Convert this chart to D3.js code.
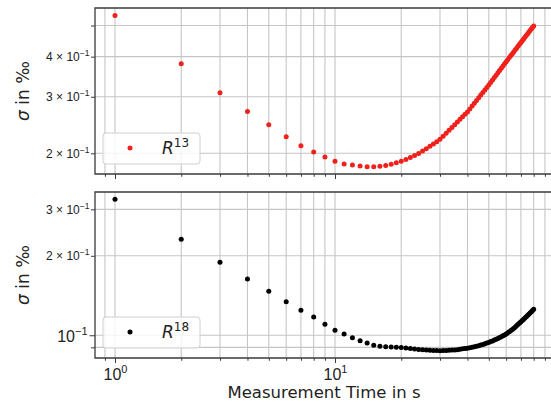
<!DOCTYPE html>
<html>
<head>
<meta charset="utf-8">
<script src="https://cdnjs.cloudflare.com/ajax/libs/d3/7.8.5/d3.min.js"></script>
<style>
    body { margin: 0; background: #fff; }
    svg { font-family: "DejaVu Sans", sans-serif; }
</style>
</head>
<body>
<div id="chart"></div>
<script>
// measurement times (s)
var measureTime = [1, 2, 3, 4, 5, 6, 7, 8, 9, 10, 11, 12, 13, 14, 15, 16, 17, 18, 19, 20,
    21, 22, 23, 24, 25, 26, 27, 28, 29, 30, 31, 32, 33, 34, 35, 36, 37, 38, 39, 40,
    41, 42, 43, 44, 45, 46, 47, 48, 49, 50, 51, 52, 53, 54, 55, 56, 57, 58, 59, 60,
    61, 62, 63, 64, 65, 66, 67, 68, 69, 70, 71, 72, 73, 74, 75, 76, 77, 78, 79, 80];

// sigma of R13 in permil
var sigmaR13 = [0.537, 0.380, 0.309, 0.270, 0.2456, 0.2252, 0.2112, 0.2019, 0.1947, 0.1888,
    0.1852, 0.1838, 0.1826, 0.1816, 0.1816, 0.1822, 0.1834, 0.1848, 0.1868, 0.1888,
    0.1913, 0.1941, 0.1969, 0.1997, 0.2034, 0.2068, 0.2105, 0.2137, 0.2172, 0.2210,
    0.2260, 0.2309, 0.2359, 0.2407, 0.2456, 0.2504, 0.2551, 0.2598, 0.2645, 0.2690,
    0.2748, 0.2806, 0.2863, 0.2921, 0.2978, 0.3037, 0.3094, 0.3150, 0.3207, 0.3265,
    0.3324, 0.3384, 0.3443, 0.3502, 0.3563, 0.3623, 0.3681, 0.3739, 0.3799, 0.3859,
    0.3915, 0.3974, 0.4032, 0.4087, 0.4146, 0.4200, 0.4258, 0.4316, 0.4372, 0.4429,
    0.4487, 0.4542, 0.4598, 0.4654, 0.4708, 0.4766, 0.4821, 0.4876, 0.4929, 0.4986];

// sigma of R18 in permil
var sigmaR18 = [0.3273, 0.2309, 0.1890, 0.1634, 0.1468, 0.1340, 0.1244, 0.1173, 0.1101, 0.1045,
    0.1011, 0.0978, 0.0954, 0.0934, 0.0917, 0.0909, 0.0905, 0.0902, 0.0901, 0.0898,
    0.0895, 0.0891, 0.0887, 0.0884, 0.0881, 0.0879, 0.0877, 0.0876, 0.0875, 0.0874,
    0.0875, 0.0876, 0.0878, 0.0879, 0.0880, 0.0882, 0.0885, 0.0888, 0.0890, 0.0893,
    0.0897, 0.0901, 0.0905, 0.0909, 0.0913, 0.0918, 0.0923, 0.0929, 0.0934, 0.0939,
    0.0946, 0.0952, 0.0959, 0.0966, 0.0972, 0.0980, 0.0988, 0.0996, 0.1003, 0.1011,
    0.1021, 0.1032, 0.1042, 0.1052, 0.1063, 0.1075, 0.1088, 0.1100, 0.1113, 0.1126,
    0.1138, 0.1150, 0.1163, 0.1176, 0.1188, 0.1201, 0.1214, 0.1228, 0.1241, 0.1255];

// ticks
var xMajorTicks = [1, 10];
var xMajorLabels = ["0", "1"];   // exponents of 10
var xMinorTicks = [0.9, 2, 3, 4, 5, 6, 7, 8, 9, 20, 30, 40, 50, 60, 70, 80, 90];

var topYTicks = [0.2, 0.3, 0.4, 0.5];
var topYLabels = ["2 × 10", "3 × 10", "4 × 10", ""];
var botYTicks = [0.09, 0.1, 0.2, 0.3];
var botYLabels = ["", "10", "2 × 10", "3 × 10"];
var botYMajor = [0.1];

let width = 551;
let height = 403;

var svg = d3.select("#chart").append("svg")
    .attr("width", width)
    .attr("height", height);

// x axis shared by both panels (log)
var xScale = d3.scaleLog()
    .domain([0.811, 100])
    .range([95, 555]);

var yTop = d3.scaleLog()
    .domain([0.1724, 0.567])
    .range([174, 8]);

var yBot = d3.scaleLog()
    .domain([0.082, 0.349])
    .range([358, 192]);

var gridColor = "#c6c6c6";
var spineColor = "#3a3a3a";
var textColor = "#222";

function drawPanel(yScale, yTicks, yLabels, yMajor, values, color, sup, xLabels) {
    var top = yScale.range()[1];
    var bottom = yScale.range()[0];
    var left = xScale.range()[0];
    var right = xScale.range()[1];
    var g = svg.append("g");

    // grid
    g.selectAll(".vgrid")
        .data(xMajorTicks.concat(xMinorTicks))
        .enter()
        .append("line")
        .attr("x1", d => xScale(d))
        .attr("x2", d => xScale(d))
        .attr("y1", top)
        .attr("y2", bottom)
        .attr("stroke", gridColor)
        .attr("stroke-width", 1.1);

    g.selectAll(".hgrid")
        .data(yTicks)
        .enter()
        .append("line")
        .attr("x1", left)
        .attr("x2", right)
        .attr("y1", d => yScale(d))
        .attr("y2", d => yScale(d))
        .attr("stroke", gridColor)
        .attr("stroke-width", 1.1);

    // points
    g.selectAll("circle.pt")
        .data(values)
        .enter()
        .append("circle")
        .attr("class", "pt")
        .attr("cx", (d, i) => xScale(measureTime[i]))
        .attr("cy", d => yScale(d))
        .attr("r", 2.5)
        .attr("fill", color);

    // x ticks (major + minor)
    var xMajAxis = g.append("g")
        .attr("transform", "translate(0," + bottom + ")")
        .call(d3.axisBottom(xScale).tickValues(xMajorTicks).tickSize(5).tickFormat(() => ""));
    g.append("g")
        .attr("transform", "translate(0," + bottom + ")")
        .call(d3.axisBottom(xScale).tickValues(xMinorTicks).tickSize(2.8).tickFormat(() => ""));

    if (xLabels) {
        xMajAxis.selectAll(".tick text").each(function (d, i) {
            var t = d3.select(this)
                .attr("y", 22)
                .attr("dy", 0)
                .attr("font-size", "16px")
                .attr("fill", textColor);
            t.append("tspan").text("10");
            t.append("tspan").attr("dy", -7).attr("font-size", "11px").text(xMajorLabels[i]);
        });
    }

    // y ticks
    var yAxis = g.append("g")
        .attr("transform", "translate(" + left + ",0)")
        .call(d3.axisLeft(yScale).tickValues(yTicks).tickSize(4).tickPadding(1.5).tickFormat(() => ""));

    yAxis.selectAll(".tick").each(function (d, i) {
        var big = yMajor.indexOf(d) >= 0;
        var tick = d3.select(this);
        if (big) tick.select("line").attr("x2", -5.5);
        if (!yLabels[i]) return;
        var t = tick.select("text")
            .attr("x", big ? -7.5 : -5.5)
            .attr("dy", big ? "0.36em" : "0.34em")
            .attr("font-size", big ? "16px" : "12px")
            .attr("fill", textColor);
        t.append("tspan").text(yLabels[i]);
        t.append("tspan").attr("dy", big ? -7 : -5).attr("font-size", big ? "11px" : "8.5px").text("\u22121");
    });

    g.selectAll(".domain").remove();
    g.selectAll(".tick line").attr("stroke", spineColor).attr("stroke-width", 1);

    // spines (right one falls outside the picture)
    g.append("path")
        .attr("d", "M" + right + "," + top + "H" + left + "V" + bottom + "H" + right)
        .attr("fill", "none")
        .attr("stroke", spineColor)
        .attr("stroke-width", 1.3);

    // y label
    var midY = (top + bottom) / 2;
    var yl = svg.append("text")
        .attr("transform", "translate(29," + midY + ") rotate(-90)")
        .attr("text-anchor", "middle")
        .attr("font-size", "17px")
        .attr("fill", textColor);
    yl.append("tspan").attr("font-style", "italic").text("σ");
    yl.append("tspan").text(" in ‰");

    // legend
    var lg = svg.append("g").attr("transform", "translate(103," + (bottom - 41) + ")");
    lg.append("rect")
        .attr("width", 97)
        .attr("height", 31)
        .attr("rx", 3)
        .attr("fill", "#fff")
        .attr("fill-opacity", 0.8)
        .attr("stroke", "#d0d0d0")
        .attr("stroke-width", 1);
    lg.append("circle")
        .attr("cx", 27)
        .attr("cy", 15)
        .attr("r", 2.5)
        .attr("fill", color);
    var lt = lg.append("text")
        .attr("x", 59)
        .attr("y", 21)
        .attr("font-size", "17px")
        .attr("fill", textColor);
    lt.append("tspan").attr("font-style", "italic").text("R");
    lt.append("tspan").attr("dy", -7).attr("font-size", "12px").text(sup);
}

drawPanel(yTop, topYTicks, topYLabels, [], sigmaR13, "#f0211c", "13", false);
drawPanel(yBot, botYTicks, botYLabels, botYMajor, sigmaR18, "#000", "18", true);

// x label
svg.append("text")
    .attr("x", 324)
    .attr("y", 398)
    .attr("text-anchor", "middle")
    .attr("font-size", "16.5px")
    .attr("fill", textColor)
    .text("Measurement Time in s");
</script>
</body>
</html>
